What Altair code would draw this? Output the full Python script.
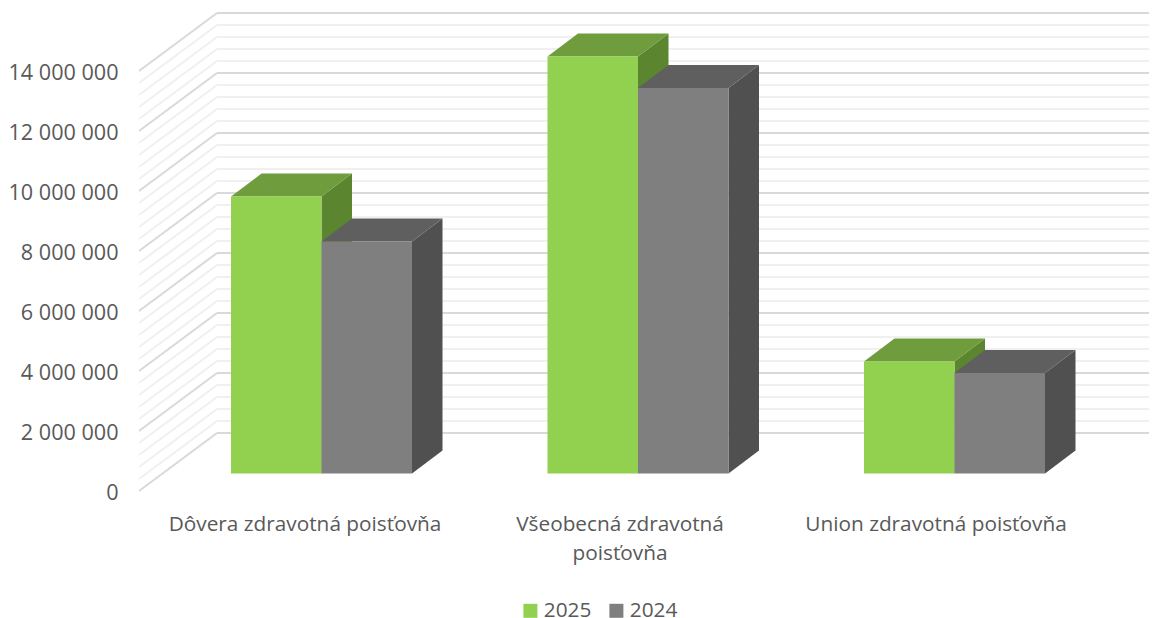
import altair as alt
import pandas as pd

categories = ["Dôvera zdravotná poisťovňa", "Všeobecná zdravotná poisťovňa", "Union zdravotná poisťovňa"]
category_lines = [["Dôvera zdravotná poisťovňa"], ["Všeobecná zdravotná", "poisťovňa"], ["Union zdravotná poisťovňa"]]
series = ["2025", "2024"]
values_2025 = [9230000, 13900000, 3730000]
values_2024 = [7730000, 12850000, 3350000]
y_ticks = [0, 2000000, 4000000, 6000000, 8000000, 10000000, 12000000, 14000000]

FONT = "Open Sans"
FS = 20.8
TEXT = "#595959"
PX = 1 / 30 * 1e6            # value units per pixel
X0, PW, PH = 139, 1010, 483
WALL_DX, WALL_DY = 78, 58 * PX
BAR_DX, BAR_DY = 30.5, 23 * PX
BASE = 17.5 * PX
GROUP_LEFT = [231, 547.5, 864]
BAR_W = 90.5
LABEL_X = [305, 620, 936]

front = {"2025": "#92D050", "2024": "#7F7F7F"}
top = {"2025": "#6F9C3D", "2024": "#5F5F5F"}
side = {"2025": "#5C8530", "2024": "#505050"}

xs = alt.Scale(domain=[0, PW], range=[0, PW])
ys = alt.Scale(domain=[0, PH * PX], range=[PH, 0])
X = lambda f="x": alt.X(f"{f}:Q", scale=xs, axis=None)
Y = lambda f="y": alt.Y(f"{f}:Q", scale=ys, axis=None, stack=None)

# walls
minor, major = [], []
for i in range(0, 36):
    v = i * 400000
    tgt = major if i % 5 == 0 else minor
    tgt.append(dict(x=0, x2=WALL_DX, y=v, y2=v + WALL_DY))
    tgt.append(dict(x=WALL_DX, x2=PW, y=v + WALL_DY, y2=v + WALL_DY))


def rules(rows, color, w):
    return alt.Chart(pd.DataFrame(rows)).mark_rule(color=color, strokeWidth=w).encode(
        x=X(), x2="x2:Q", y=Y(), y2="y2:Q")


layers = [rules(minor, "#F0F0F0", 2), rules(major, "#D9D9D9", 2)]

# invisible layer that carries the value axis
axis_df = pd.DataFrame({"v": y_ticks})
layers.append(alt.Chart(axis_df).mark_point(opacity=0).encode(
    y=alt.Y("v:Q", scale=ys, axis=alt.Axis(
        values=y_ticks, domain=False, ticks=False, grid=False, title=None,
        labelFont=FONT, labelFontSize=21.6, labelColor=TEXT, labelPadding=21, labelOffset=2,
        labelExpr="replace(format(datum.value, ','), /,/g, ' ')"))))

for s_i, (name, vals) in enumerate(zip(series, [values_2025, values_2024])):
    sides, tops, fronts = [], [], []
    for g, v in enumerate(vals):
        x0 = GROUP_LEFT[g] - X0 + s_i * BAR_W
        x1 = x0 + BAR_W
        t = BASE + v
        sides += [dict(b=g, x=x1, y=BASE, y2=t), dict(b=g, x=x1 + BAR_DX, y=BASE + BAR_DY, y2=t + BAR_DY)]
        tops += [dict(b=g, x=x0, x2=x1, y=t), dict(b=g, x=x0 + BAR_DX, x2=x1 + BAR_DX, y=t + BAR_DY)]
        fronts.append(dict(series=name, x=x0, x2=x1, y=BASE, y2=t))
    layers.append(alt.Chart(pd.DataFrame(sides)).mark_area(color=side[name], orient="vertical").encode(
        x=X(), y=Y(), y2="y2:Q", detail="b:N"))
    layers.append(alt.Chart(pd.DataFrame(tops)).mark_area(color=top[name], orient="horizontal").encode(
        x=alt.X("x:Q", scale=xs, axis=None, stack=None), x2="x2:Q", y=Y(), detail="b:N"))
    layers.append(alt.Chart(pd.DataFrame(fronts)).mark_rect().encode(
        x=X(), x2="x2:Q", y=Y(), y2="y2:Q",
        color=alt.Color("series:N",
                        scale=alt.Scale(domain=series, range=[front[s] for s in series]),
                        legend=alt.Legend(
                            orient="none", legendX=381, legendY=592, direction="horizontal",
                            title=None, symbolType="square", symbolSize=196, symbolStrokeWidth=0,
                            labelFont=FONT, labelFontSize=FS, labelColor=TEXT,
                            columnPadding=14, labelOffset=3, padding=0))))

# category labels
lab = []
for g, lines in enumerate(category_lines):
    for n, line in enumerate(lines):
        lab.append(dict(x=LABEL_X[g] - X0, y=-(34 + 29 * n) * PX, t=line))
layers.append(alt.Chart(pd.DataFrame(lab)).mark_text(
    font=FONT, fontSize=FS, color=TEXT, align="center", baseline="middle", clip=False).encode(
    x=X(), y=Y(), text="t:N"))

chart = alt.layer(*layers).resolve_scale(x="shared", y="shared").resolve_axis(y="independent").properties(
    width=PW, height=PH,
    autosize=alt.AutoSizeParams(type="none"),
    padding={"left": X0 - 8, "top": 0, "right": 0, "bottom": 610 - PH},
).configure_view(stroke=None)

chart.save("out.html", embed_options={"renderer": "svg", "actions": False})
